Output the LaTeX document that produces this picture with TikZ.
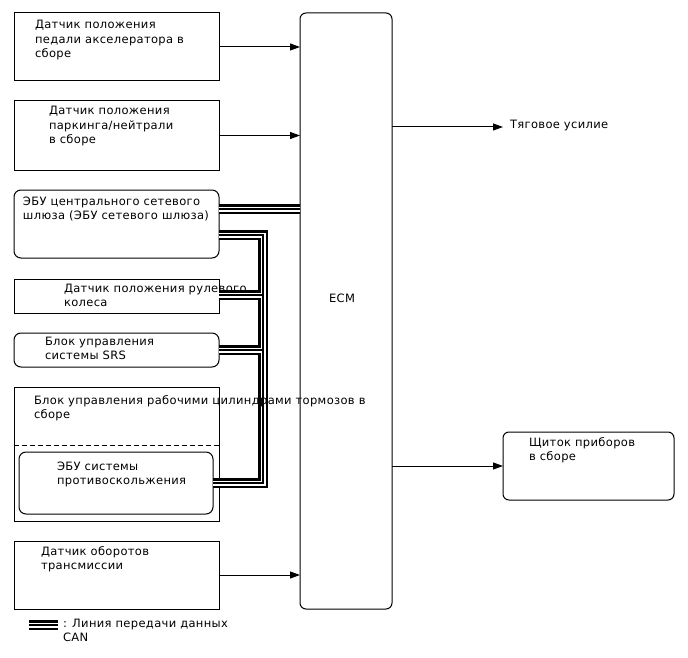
\documentclass[tikz,border=0pt]{standalone}
\usepackage{fontspec}
\setmainfont{DejaVu Sans}[LetterSpace=3]
\usetikzlibrary{arrows.meta}
\newcommand\mycanpaths[1]{%
  \draw[#1] (gw.east |- 0,209) -- (ecm.west |- 0,209);
  \draw[#1] (gw.east |- 0,235) -| (263,483) -- (abs.east |- 0,483);
  \draw[#1] (st.east |- 0,295) -- (263,295);
  \draw[#1] (srs.east) -- (263,350);
  \draw[#1] (lgA) -- (lgB);
}
\begin{document}
\begin{tikzpicture}[x=1pt,y=-1pt,
  box/.style={draw,line width=1pt,anchor=north west,inner sep=0,outer sep=0},
  rbox/.style={box,rounded corners=7pt},
  txt/.style={anchor=base west,inner sep=0,outer sep=0,align=left,font=\fontsize{11.5}{14.5}\selectfont},
  arr/.style={line width=1pt,-{Triangle[length=10pt,width=7pt]}},
  canA/.style={line width=9.5pt},
  canB/.style={line width=5pt,white},
  canC/.style={line width=1.1pt},
]
\useasboundingbox (0,0) rectangle (688,658);
\node[box,minimum width=205pt,minimum height=68pt] (acc) at (14,13) {};
\node[box,minimum width=205pt,minimum height=69pt] (pn) at (14,101) {};
\node[rbox,minimum width=205pt,minimum height=68pt] (gw) at (14,190) {};
\node[box,minimum width=205pt,minimum height=34pt] (st) at (14,279) {};
\node[rbox,minimum width=205pt,minimum height=34pt] (srs) at (14,333) {};
\node[box,minimum width=205pt,minimum height=134pt] (br) at (14,387) {};
\node[rbox,minimum width=194pt,minimum height=62pt] (abs) at (19,452) {};
\node[box,minimum width=205pt,minimum height=68pt] (tr) at (14,541) {};
\node[rbox,rounded corners=6pt,minimum width=92pt,minimum height=596pt] (ecm) at (300,13) {};
\node[rbox,rounded corners=6pt,minimum width=171pt,minimum height=68pt] (ip) at (503,432) {};
\draw[line width=1pt,dash pattern=on 5pt off 3pt] (br.west |- 0,445) -- (br.east |- 0,445);
\coordinate (lgA) at (29,625);
\coordinate (lgB) at (58,625);
\coordinate (tq) at (503,127);
\mycanpaths{canA}
\mycanpaths{canB}
\mycanpaths{canC}
\draw[arr] (acc.east) -- (acc.east -| ecm.west);
\draw[arr] (pn.east) -- (pn.east -| ecm.west);
\draw[arr] (tr.east) -- (tr.east -| ecm.west);
\draw[arr] (ecm.east |- tq) -- (tq);
\draw[arr] (ecm.east |- ip.west) -- (ip.west);
% base anchor = baseline of the last line
\node[txt] (acct) at (35,58) {Датчик положения\\педали акселератора в\\сборе};
\node[txt] (pnt) at (49,144) {Датчик положения\\паркинга/нейтрали\\в сборе};
\node[txt] (gwt) at (23,219.5) {ЭБУ центрального сетевого\\шлюза (ЭБУ сетевого шлюза)};
\node[txt] (stt) at (64,306.5) {Датчик положения рулевого\\колеса};
\node[txt] (srst) at (45,359.5) {Блок управления\\системы SRS};
\node[txt] (brt) at (34,418.5) {Блок управления рабочими цилиндрами тормозов в\\сборе};
\node[txt] (abst) at (57,484.5) {ЭБУ системы\\противоскольжения};
\node[txt] (trt) at (41,569.5) {Датчик оборотов\\трансмиссии};
\node[txt,anchor=base] (ecmt) at (342,302) {ECM};
\node[txt] (tqt) at (510,129) {Тяговое усилие};
\node[txt] (ipt) at (529,460.5) {Щиток приборов\\в сборе};
\node[txt] (lgt) at (63,641.5) {: Линия передачи данных\\CAN};
\end{tikzpicture}
\end{document}
